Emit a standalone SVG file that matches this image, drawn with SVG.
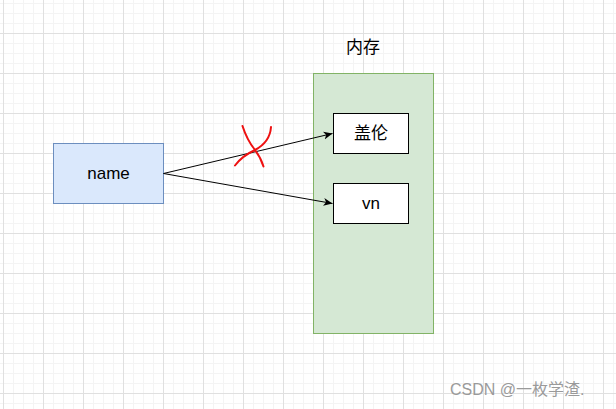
<svg xmlns="http://www.w3.org/2000/svg" width="616" height="409" viewBox="0 0 616 409">
<defs>
<pattern id="minor" width="10" height="10" patternUnits="userSpaceOnUse" x="3" y="3">
<path d="M0 0.5H10M0.5 0V10" fill="none" stroke="#f4f4f4" stroke-width="1"/>
</pattern>
<pattern id="major" width="40" height="40" patternUnits="userSpaceOnUse" x="3" y="33">
<path d="M0 0.5H40M0.5 0V40" fill="none" stroke="#e0e0e0" stroke-width="1"/>
</pattern>
<marker id="arr" markerWidth="10" markerHeight="10" refX="9" refY="5" orient="auto" markerUnits="userSpaceOnUse">
<path d="M0,1 L9,5 L0,9 L2.5,5 Z" fill="#000"/>
</marker>
<style>
text{font-family:"Liberation Sans","Noto Sans CJK SC",sans-serif;}
.lbl{font-size:17px;fill:#000;text-anchor:middle;dominant-baseline:central;}
.edge{fill:none;stroke:#000;stroke-width:1;marker-end:url(#arr);}
.x{fill:none;stroke:#ee1111;stroke-width:2;stroke-linecap:round;}
</style>
</defs>
<rect width="616" height="409" fill="#fff"/>
<rect width="616" height="409" fill="url(#minor)"/>
<rect width="616" height="409" fill="url(#major)"/>
<g id="memory">
<rect x="313.5" y="73.5" width="120" height="260" fill="#d5e8d4" stroke="#82b366"/>
<text class="lbl" x="363" y="47">内存</text>
</g>
<g id="name">
<rect x="53.5" y="143.5" width="110" height="60" fill="#dae8fc" stroke="#6c8ebf"/>
<text class="lbl" x="108.5" y="173">name</text>
</g>
<g id="gailun">
<rect x="333.5" y="113.5" width="75" height="40" fill="#fff" stroke="#000"/>
<text class="lbl" x="371" y="133">盖伦</text>
</g>
<g id="vn">
<rect x="333.5" y="183.5" width="75" height="40" fill="#fff" stroke="#000"/>
<text class="lbl" x="371" y="203">vn</text>
</g>
<g id="connectors">
<path class="edge" d="M163.5 173.5 L332.5 133.5"/>
<path class="edge" d="M163.5 173.5 L332.5 203.5"/>
</g>
<g id="cross">
<path class="x" d="M242.5 126 Q247 140 255 150 Q261 158 263.5 166.5"/>
<path class="x" d="M235 165.5 Q242 156 255 150 Q270 142 271 127"/>
</g>
<text x="450" y="395" font-size="16" fill="#9a9a9a">CSDN @一枚学渣.</text>
</svg>
